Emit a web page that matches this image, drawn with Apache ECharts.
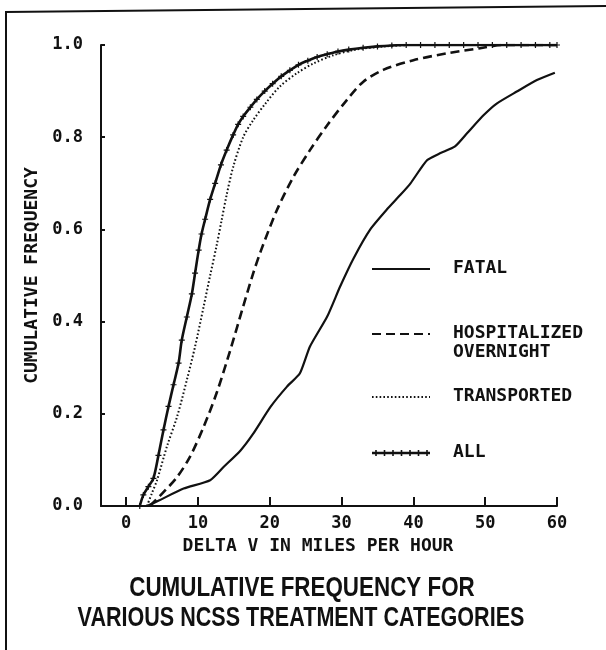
<!DOCTYPE html>
<html>
<head>
<meta charset="utf-8">
<script src="https://cdn.jsdelivr.net/npm/echarts@6/dist/echarts.min.js"></script>
<style>
  html, body { margin: 0; padding: 0; background: #fff; }
  #chart { width: 606px; height: 650px; }
</style>
</head>
<body>
<div id="chart"></div>
<script>
// Cumulative frequency of delta V (mph) by NCSS treatment category.
const xTicks = [0, 10, 20, 30, 40, 50, 60];

const fatal = [
  [2.9, 0], [4.7, 0.013], [8, 0.038], [11.7, 0.056], [13.6, 0.085], [15.9, 0.12],
  [17.7, 0.157], [20.1, 0.215], [22.4, 0.259], [24.2, 0.288], [25.6, 0.346],
  [28, 0.411], [29.8, 0.476], [31.7, 0.538], [34, 0.6], [36.3, 0.643], [38.2, 0.675],
  [39.6, 0.7], [41.9, 0.75], [43.7, 0.765], [45.8, 0.78], [47.5, 0.809], [49.8, 0.848],
  [51.6, 0.873], [54.4, 0.899], [57.2, 0.924], [59.7, 0.94]
];

const hospitalized = [
  [3.3, 0], [5.2, 0.03], [7.1, 0.063], [8.9, 0.107], [10.8, 0.172], [12.6, 0.245],
  [14.5, 0.338], [16.3, 0.433], [17.7, 0.505], [18.8, 0.555], [21, 0.642], [23.3, 0.714],
  [25.6, 0.772], [28, 0.826], [30.7, 0.88], [33, 0.92], [35.8, 0.946], [40, 0.967],
  [44.7, 0.982], [49.3, 0.993], [52.5, 1.0], [60, 1.0]
];

const transported = [
  [2.9, 0], [3.6, 0.028], [4.3, 0.056], [5.7, 0.13], [7.1, 0.194], [8.45, 0.273],
  [9.6, 0.346], [10.8, 0.433], [11.7, 0.5], [12.6, 0.565], [13.3, 0.62], [14, 0.675],
  [14.9, 0.735], [16.3, 0.8], [17.7, 0.837], [19.4, 0.873], [21.4, 0.91], [23.8, 0.939],
  [26.1, 0.96], [28.9, 0.978], [32, 0.99], [36, 0.997], [40, 1.0], [50, 1.0], [60, 1.0]
];

const all = [
  [1.9, 0], [2.4, 0.024], [3.1, 0.042], [3.8, 0.06], [4.5, 0.11], [5.2, 0.165],
  [5.9, 0.216], [6.6, 0.263], [7.3, 0.31], [7.75, 0.36], [8.45, 0.41], [9.15, 0.46],
  [9.6, 0.505], [10.1, 0.555], [10.5, 0.59], [11, 0.622], [11.7, 0.665], [12.4, 0.7],
  [13.2, 0.74], [14, 0.772], [14.9, 0.805], [15.6, 0.828], [16.3, 0.845], [17.3, 0.865],
  [18.2, 0.882], [19.3, 0.9], [20.4, 0.916], [21.6, 0.932], [22.8, 0.945], [24, 0.957],
  [25.3, 0.966], [26.6, 0.974], [28, 0.98], [29.5, 0.986], [31, 0.99], [33, 0.994],
  [35, 0.997], [37, 0.999], [39, 1.0], [41, 1.0], [43, 1.0], [45, 1.0], [47, 1.0],
  [49, 1.0], [51, 1.0], [53, 1.0], [55, 1.0], [57, 1.0], [59, 1.0], [60, 1.0]
];

const legendItems = [
  { label: 'FATAL', kind: 'solid' },
  { label: 'HOSPITALIZED\nOVERNIGHT', kind: 'dashed' },
  { label: 'TRANSPORTED', kind: 'dotted' },
  { label: 'ALL', kind: 'plus' }
];

const INK = '#111';
const MONO = '"DejaVu Sans Mono", monospace';
const dashStyle = [9, 5];
const dotStyle = [1.6, 2.2];
const plusPath = 'path://M-0.6,-3H0.6V-0.6H3V0.6H0.6V3H-0.6V0.6H-3V-0.6H-0.6Z';

// Legend block, drawn to the right of the curves
const legendX0 = 372, legendX1 = 430, legendTextX = 453;
const legendRowsY = [269, 334, 397, 453];
const legendGraphics = [];
legendItems.forEach((item, i) => {
  const y = legendRowsY[i];
  const lineStyle = { stroke: INK, lineWidth: item.kind === 'dotted' ? 2 : (item.kind === 'plus' ? 2.5 : 2.2) };
  if (item.kind === 'dashed') lineStyle.lineDash = dashStyle;
  if (item.kind === 'dotted') lineStyle.lineDash = dotStyle;
  legendGraphics.push({
    type: 'line',
    shape: { x1: legendX0, y1: y, x2: legendX1, y2: y },
    style: lineStyle
  });
  if (item.kind === 'plus') {
    for (let k = 0; k < 7; k++) {
      const cx = legendX0 + 4 + k * 8.5;
      legendGraphics.push({
        type: 'polyline',
        shape: { points: [[cx, y - 3], [cx, y + 3]] },
        style: { stroke: INK, lineWidth: 1.6 }
      });
    }
  }
  legendGraphics.push({
    type: 'text',
    x: legendTextX,
    y: y - 10,
    style: {
      text: item.label,
      fill: INK,
      font: 'bold 18px ' + MONO,
      lineHeight: 19,
      align: 'left',
      verticalAlign: 'top'
    }
  });
});

const chart = echarts.init(document.getElementById('chart'), null, { renderer: 'canvas' });

chart.setOption({
  backgroundColor: '#fff',
  animation: false,
  grid: { left: 101, right: 49, top: 45, bottom: 144, containLabel: false },
  xAxis: {
    type: 'value',
    min: -3.5,
    max: 60,
    name: 'DELTA V IN MILES PER HOUR',
    nameLocation: 'middle',
    nameGap: 29,
    nameTextStyle: { color: INK, fontFamily: MONO, fontWeight: 'bold', fontSize: 18, padding: [0, 22, 0, 0] },
    axisLine: { onZero: false, lineStyle: { color: INK, width: 2 } },
    axisTick: { inside: true, length: 9, customValues: xTicks, lineStyle: { color: INK, width: 2 } },
    axisLabel: { customValues: xTicks, margin: 9, color: INK, fontFamily: MONO, fontWeight: 'bold', fontSize: 17 },
    splitLine: { show: false }
  },
  yAxis: {
    type: 'value',
    min: 0,
    max: 1,
    interval: 0.2,
    name: 'CUMULATIVE FREQUENCY',
    nameLocation: 'middle',
    nameGap: 53,
    nameTextStyle: { color: INK, fontFamily: MONO, fontWeight: 'bold', fontSize: 18 },
    axisLine: { onZero: false, lineStyle: { color: INK, width: 2 } },
    axisTick: { inside: true, length: 4, lineStyle: { color: INK, width: 2 } },
    axisLabel: {
      margin: 18, color: INK, fontFamily: MONO, fontWeight: 'bold', fontSize: 17,
      formatter: v => v.toFixed(1)
    },
    splitLine: { show: false }
  },
  series: [
    {
      name: 'FATAL', type: 'line', data: fatal, showSymbol: false, smooth: 0.2,
      lineStyle: { color: INK, width: 2.2 }
    },
    {
      name: 'HOSPITALIZED OVERNIGHT', type: 'line', data: hospitalized, showSymbol: false, smooth: 0.3,
      lineStyle: { color: INK, width: 2.6, type: dashStyle }
    },
    {
      name: 'TRANSPORTED', type: 'line', data: transported, showSymbol: false, smooth: 0.3,
      lineStyle: { color: INK, width: 2, type: dotStyle }
    },
    {
      name: 'ALL', type: 'line', data: all, smooth: 0.3,
      symbol: plusPath, symbolSize: 6, showAllSymbol: true,
      itemStyle: { color: INK },
      lineStyle: { color: INK, width: 2.6 }
    }
  ],
  graphic: [
    // outer frame: top and left edges
    { type: 'line', shape: { x1: 5, y1: 12, x2: 606, y2: 6 }, style: { stroke: INK, lineWidth: 2 } },
    { type: 'line', shape: { x1: 6, y1: 12, x2: 6, y2: 650 }, style: { stroke: INK, lineWidth: 2 } },
    ...legendGraphics,
    {
      type: 'text', x: 302, y: 588, scaleX: 0.8,
      style: { text: 'CUMULATIVE FREQUENCY FOR', fill: INK, font: 'bold 28px "Liberation Sans"', align: 'center', verticalAlign: 'middle' }
    },
    {
      type: 'text', x: 301, y: 618, scaleX: 0.77,
      style: { text: 'VARIOUS NCSS TREATMENT CATEGORIES', fill: INK, font: 'bold 28px "Liberation Sans"', align: 'center', verticalAlign: 'middle' }
    }
  ]
});
</script>
</body>
</html>
